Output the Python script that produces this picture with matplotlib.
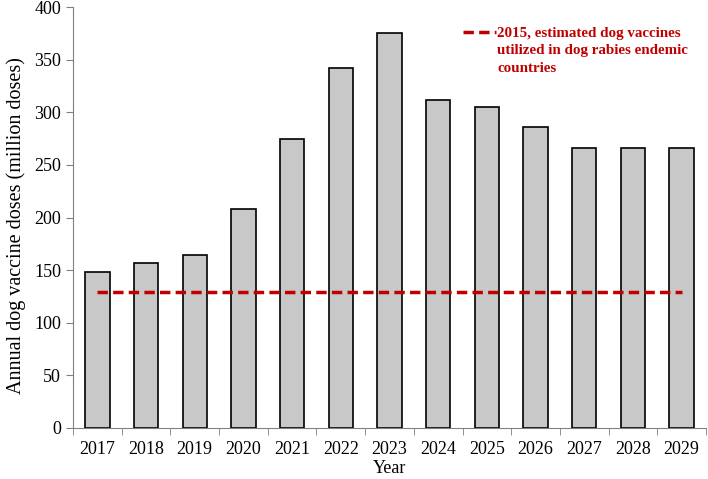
import matplotlib
matplotlib.use("Agg")
import matplotlib.pyplot as plt
from matplotlib.lines import Line2D

plt.rcParams['font.family'] = ['Liberation Serif', 'DejaVu Serif']

years = ['2017', '2018', '2019', '2020', '2021', '2022', '2023',
         '2024', '2025', '2026', '2027', '2028', '2029']
doses = [148, 157, 164, 208, 275, 342, 375, 312, 305, 286, 266, 266, 266]
baseline_2015 = 129
legend_text = '2015, estimated dog vaccines\nutilized in dog rabies endemic\ncountries'

fig = plt.figure(figsize=(7.08, 4.79), dpi=100)
ax = fig.add_axes([73/708, 1 - 428/479, 633/708, 421/479])

x = list(range(len(years)))
ax.bar(x, doses, width=0.5, color='#c8c8c8', edgecolor='black', linewidth=1.2, zorder=2)
ax.plot(x, [baseline_2015] * len(x), color='#c00000', linestyle=(0, (3, 1.5)),
        linewidth=2.5, zorder=3)

ax.set_xlim(-0.5, len(years) - 0.5)
ax.set_ylim(0, 400)
ax.set_yticks(range(0, 401, 50))
ax.set_xticks(x)
ax.set_xticklabels(years, fontsize=13)
ax.set_xticks([i + 0.5 for i in range(-1, len(years))], minor=True)
ax.tick_params(axis='x', which='major', length=0, pad=9)
ax.tick_params(axis='x', which='minor', length=5, color='#808080', direction='out')
ax.tick_params(axis='y', labelsize=13, length=5, color='#808080', direction='out')

for side in ['top', 'right']:
    ax.spines[side].set_visible(False)
for side in ['left', 'bottom']:
    ax.spines[side].set_color('#808080')

ax.set_xlabel('Year', fontsize=13, labelpad=2)
ax.set_ylabel('Annual dog vaccine doses (million doses)', fontsize=14.5)
ax.yaxis.set_label_coords(-0.074, 0.48)

handle = Line2D([0], [0], color='#c00000', linestyle=(0, (3, 1.5)), linewidth=2.5)
leg = ax.legend([handle], [legend_text], loc='upper left', bbox_to_anchor=(0.594, 0.985),
                frameon=False, handlelength=2.2, handletextpad=0.1,
                prop={'weight': 'bold', 'size': 10.8})
# put the dashed handle next to the first text line
for col in leg._legend_handle_box.get_children():
    for item in col.get_children():
        item.align = 'top'
for t in leg.get_texts():
    t.set_color('#c00000')
    t.set_linespacing(1.45)

fig.savefig('out.png', dpi=100)
